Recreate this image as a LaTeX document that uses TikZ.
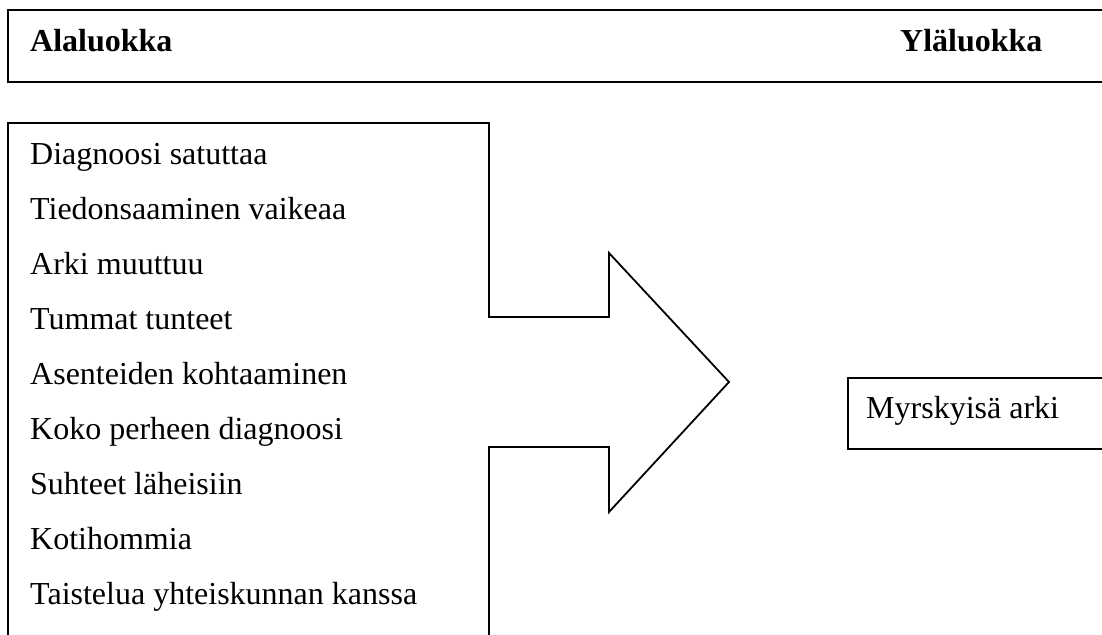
\documentclass[tikz,border=0pt]{standalone}
\usepackage{fontspec}
\setmainfont{Liberation Serif}
\begin{document}
\begin{tikzpicture}[x=1pt,y=-1pt,
  outline/.style={draw=black,line width=1.8pt,line join=miter},
  item/.style={anchor=base west,inner sep=0pt,font=\fontsize{32}{38}\selectfont},
  head/.style={anchor=base west,inner sep=0pt,font=\fontsize{32}{38}\selectfont\bfseries}]
\useasboundingbox (0,0) rectangle (1102,634);
\clip (0,0) rectangle (1102,634);
% header box (open to the right)
\draw[outline] (1120,10) -- (8,10) -- (8,82) -- (1120,82);
\node[head] (ala) at (30,52) {Alaluokka};
\node[head] (yla) at (900,52) {Yläluokka};
% list box merged with arrow
\draw[outline] (8,660) -- (8,123) -- (489,123) -- (489,317) -- (609,317) -- (609,253)
  -- (729,382) -- (609,512) -- (609,447) -- (489,447) -- (489,660);
\foreach \t [count=\i from 0] in {Diagnoosi satuttaa,Tiedonsaaminen vaikeaa,Arki muuttuu,Tummat tunteet,Asenteiden kohtaaminen,Koko perheen diagnoosi,Suhteet läheisiin,Kotihommia,Taistelua yhteiskunnan kanssa}
  \node[item] (i\i) at (30,164+55.1*\i) {\t};
% result box (open to the right)
\draw[outline] (1120,378) -- (848,378) -- (848,449) -- (1120,449);
\node[item] (res) at (866,418) {Myrskyisä arki};
\end{tikzpicture}
\end{document}
